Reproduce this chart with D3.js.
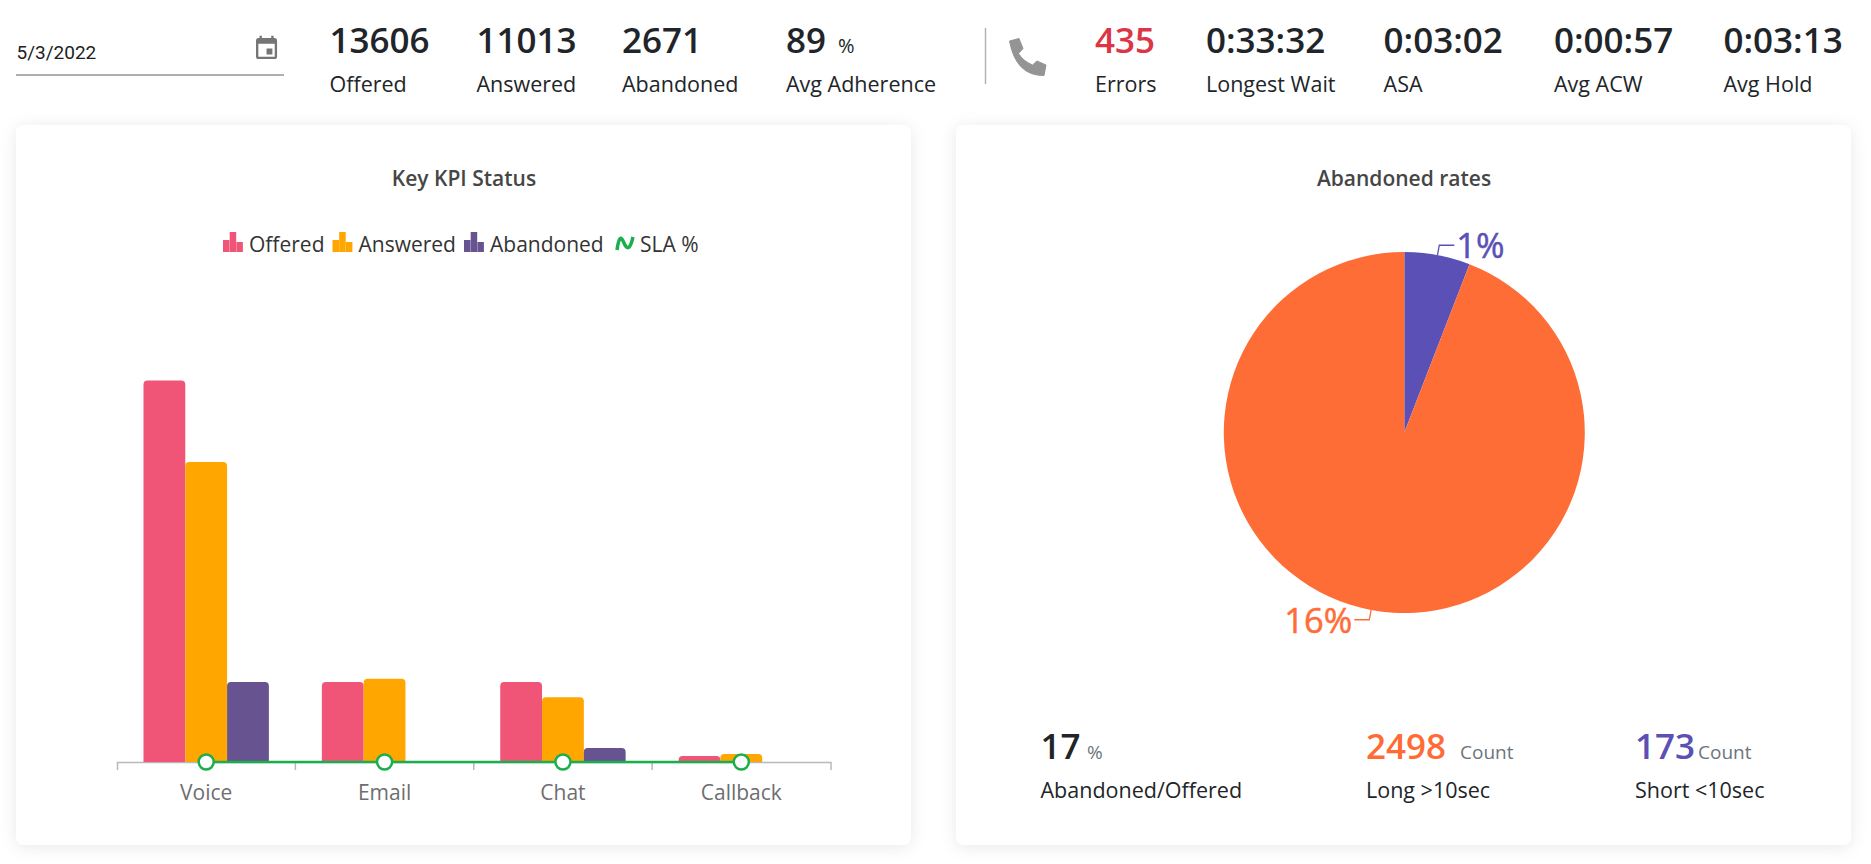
<!DOCTYPE html>
<html>
<head>
<meta charset="utf-8">
<script src="https://cdn.jsdelivr.net/npm/d3@7"></script>
<style>
  html, body { margin: 0; padding: 0; background: #fff; overflow: hidden; }
  svg { display: block; font-family: "Open Sans", "Noto Sans", sans-serif; }
</style>
</head>
<body>
<script>
// header figures
const dateValue = "5/3/2022";
const kpiValues = ["13606", "11013", "2671", "89"];
const kpiLabels = ["Offered", "Answered", "Abandoned", "Avg Adherence"];
const timeValues = ["435", "0:33:32", "0:03:02", "0:00:57", "0:03:13"];
const timeLabels = ["Errors", "Longest Wait", "ASA", "Avg ACW", "Avg Hold"];

// bar chart
const categories = ["Voice", "Email", "Chat", "Callback"];
const seriesNames = ["Offered", "Answered", "Abandoned"];
const offered = [9540, 2000, 2000, 150];
const answered = [7500, 2080, 1620, 200];
const abandoned = [2000, 0, 350, 0];
const slaPercent = [0, 0, 0, 0];

// pie
const pieLabels = ["1%", "16%"];
const pieValues = [1, 16];

// pie footer
const footValues = ["17", "2498", "173"];
const footUnits = ["%", "Count", "Count"];
const footLabels = ["Abandoned/Offered", "Long >10sec", "Short <10sec"];

// layout, kept apart from the values
const kpiX = [329.5, 476.5, 622, 786];
const timeX = [1095, 1206, 1383.6, 1554, 1723.5];
const footX = [1040.5, 1366, 1635];
const footUnitX = [1087, 1460, 1698];
const legendX = [223, 332.5, 464];
const colors = {Offered: "#f05578", Answered: "#ffa600", Abandoned: "#67538f"};
const green = "#1aae4c";
const pieColors = ["#5a50b6", "#ff6d36"];
const footColors = ["#212529", "#ff6a35", "#5a50b6"];

const svg = d3.select("body").append("svg")
    .attr("width", 1871)
    .attr("height", 864);

const defs = svg.append("defs");
const shadow = defs.append("filter").attr("id", "shadow")
    .attr("x", "-5%").attr("y", "-5%").attr("width", "110%").attr("height", "110%");
shadow.append("feDropShadow")
    .attr("dx", 0).attr("dy", 2).attr("stdDeviation", 8)
    .attr("flood-color", "#000").attr("flood-opacity", 0.09);

function label(parent, x, y, text, size, fill, weight) {
  return parent.append("text")
      .attr("x", x)
      .attr("y", y)
      .attr("font-size", size)
      .attr("font-weight", weight || 400)
      .attr("fill", fill)
      .text(text);
}

// top strip
label(svg, 16.5, 59, dateValue, 19, "#212121").attr("font-family", "Roboto");
svg.append("line")
    .attr("x1", 16).attr("x2", 284).attr("y1", 75).attr("y2", 75)
    .attr("stroke", "#949494").attr("stroke-width", 1.5);
svg.append("path")
    .attr("transform", "translate(252.5,34.5) scale(1.17)")
    .attr("fill", "#757575")
    .attr("d", "M17 12h-5v5h5v-5zM16 1v2H8V1H6v2H5c-1.11 0-1.99.9-1.99 2L3 19c0 1.1.89 2 2 2h14c1.1 0 2-.9 2-2V5c0-1.1-.9-2-2-2h-1V1h-2zm3 18H5V8h14v11z");

kpiValues.forEach((v, i) => {
  label(svg, kpiX[i], 53, v, 35, "#212529", 600);
  label(svg, kpiX[i], 92, kpiLabels[i], 21.5, "#212529");
});
label(svg, 838, 53, "%", 20, "#212529");

svg.append("line")
    .attr("x1", 985.5).attr("x2", 985.5).attr("y1", 28).attr("y2", 84)
    .attr("stroke", "#b4b4b4").attr("stroke-width", 1.5);
svg.append("path")
    .attr("transform", "translate(970,20)")
    .attr("fill", "#949494")
    .attr("stroke", "#949494")
    .attr("stroke-linejoin", "round")
    .attr("d", "M39.5,21L49,18.5L53,28.5L48.5,33.5Q53,41 62.5,45L67,41L76,45L74,55.5Q46,56 39.5,21Z");

timeValues.forEach((v, i) => {
  label(svg, timeX[i], 53, v, 35, i === 0 ? "#dc3545" : "#212529", 600);
  label(svg, timeX[i], 92, timeLabels[i], 21.5, "#212529");
});

// cards
[[16, 895], [956, 895]].forEach(([x, w]) => {
  svg.append("rect")
      .attr("x", x).attr("y", 125)
      .attr("width", w).attr("height", 720)
      .attr("rx", 8)
      .attr("fill", "#fff")
      .attr("filter", "url(#shadow)");
});

// bar chart
label(svg, 464, 186, "Key KPI Status", 21, "#464646", 600).attr("text-anchor", "middle");

const x = d3.scaleBand()
    .domain(categories)
    .range([117, 830.5]);

const xBar = d3.scaleBand()
    .domain(seriesNames)
    .range([x.bandwidth() / 2 - 62.7, x.bandwidth() / 2 + 62.7]);

const y = d3.scaleLinear()
    .domain([0, 12000])
    .range([762, 282]);

const axis = svg.append("g")
    .attr("transform", `translate(0,${y(0)})`)
    .call(d3.axisBottom(x).tickSize(0).tickSizeOuter(8).tickPadding(23))
    .attr("font-family", null)
    .attr("font-size", null);
axis.select(".domain").attr("stroke", "#b9b9b9").attr("stroke-width", 1.5);
axis.selectAll("text")
    .attr("font-size", 21)
    .attr("fill", "#6e6e70");
axis.selectAll(".edge")
    .data(categories.slice(1))
    .join("line")
      .attr("class", "edge")
      .attr("x1", d => x(d)).attr("x2", d => x(d))
      .attr("y1", 0).attr("y2", 8)
      .attr("stroke", "#b9b9b9")
      .attr("stroke-width", 1.5);

const barData = categories.flatMap((c, i) => [
  {category: c, series: "Offered", value: offered[i]},
  {category: c, series: "Answered", value: answered[i]},
  {category: c, series: "Abandoned", value: abandoned[i]}
]).filter(d => d.value > 0);

function topRounded(d) {
  const x0 = x(d.category) + xBar(d.series);
  const w = xBar.bandwidth();
  const top = y(d.value);
  const r = Math.min(4, y(0) - top);
  return `M${x0},${y(0)}V${top + r}Q${x0},${top} ${x0 + r},${top}H${x0 + w - r}Q${x0 + w},${top} ${x0 + w},${top + r}V${y(0)}Z`;
}

svg.append("g")
  .selectAll("path")
  .data(barData)
  .join("path")
    .attr("d", topRounded)
    .attr("fill", d => colors[d.series]);

const slaLine = d3.line()
    .x((d, i) => x(categories[i]) + x.bandwidth() / 2)
    .y(d => y(d));

svg.append("path")
    .attr("d", slaLine(slaPercent))
    .attr("fill", "none")
    .attr("stroke", green)
    .attr("stroke-width", 2.5);

svg.append("g")
  .selectAll("circle")
  .data(slaPercent)
  .join("circle")
    .attr("cx", (d, i) => x(categories[i]) + x.bandwidth() / 2)
    .attr("cy", d => y(d))
    .attr("r", 7.5)
    .attr("fill", "#fff")
    .attr("stroke", green)
    .attr("stroke-width", 2.5);

// legend
seriesNames.forEach((name, i) => {
  const g = svg.append("g").attr("transform", `translate(${legendX[i]},232)`);
  [[0, 8, 6.5], [6.7, 0, 6.5], [13.4, 10, 6.5]].forEach(([bx, by, bw]) => {
    g.append("rect")
        .attr("x", bx).attr("y", by)
        .attr("width", bw).attr("height", 20 - by)
        .attr("fill", colors[name]);
  });
  label(g, 26, 19.5, name, 21, "#333");
});
svg.append("path")
    .attr("d", "M617,250C619,236 621,236 624,243C627,250 630,250 633,237")
    .attr("fill", "none")
    .attr("stroke", green)
    .attr("stroke-width", 3.5);
label(svg, 640, 251.5, "SLA %", 21, "#333");

// pie
label(svg, 1404, 186, "Abandoned rates", 21, "#464646", 600).attr("text-anchor", "middle");

const radius = 180.5;
const pieG = svg.append("g").attr("transform", "translate(1404.3,432.5)");
const pie = d3.pie().sort(null);
const arc = d3.arc().innerRadius(0).outerRadius(radius);
const slices = pie(pieValues);

pieG.selectAll("path")
  .data(slices)
  .join("path")
    .attr("d", arc)
    .attr("fill", (d, i) => pieColors[i]);

slices.forEach((d, i) => {
  const mid = (d.startAngle + d.endAngle) / 2;
  const point = r => [r * Math.sin(mid), -r * Math.cos(mid)];
  const a = point(radius);
  const b = point(radius + 10);
  const side = a[0] >= 0 ? 1 : -1;
  pieG.append("path")
      .attr("d", d3.line()([a, b, [b[0] + side * 15, b[1]]]))
      .attr("fill", "none")
      .attr("stroke", pieColors[i])
      .attr("stroke-width", 1.3);
  label(pieG, b[0] + side * 17, b[1] + 13, pieLabels[i], 34.5, pieColors[i])
      .attr("text-anchor", side > 0 ? "start" : "end")
      .attr("stroke", pieColors[i])
      .attr("stroke-width", 0.5);
});

// pie footer
footValues.forEach((v, i) => {
  label(svg, footX[i], 759, v, 35, footColors[i], 600);
  label(svg, footUnitX[i], 759, footUnits[i], 19, "#6c757d");
  label(svg, footX[i], 798, footLabels[i], 21.5, "#212529");
});
</script>
</body>
</html>
